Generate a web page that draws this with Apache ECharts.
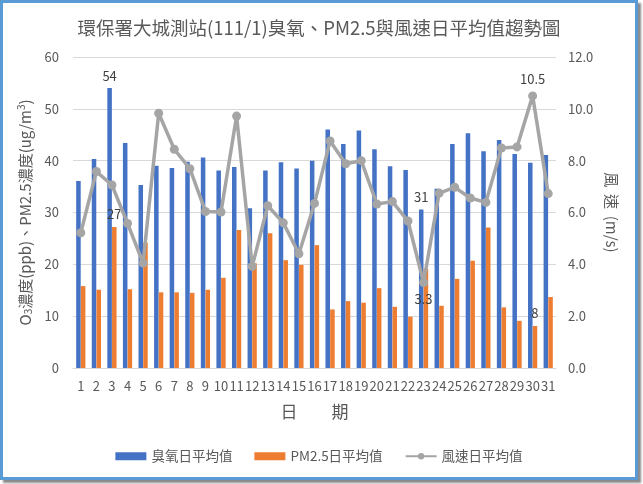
<!DOCTYPE html>
<html><head><meta charset="utf-8">
<script src="https://cdn.jsdelivr.net/npm/echarts@6/dist/echarts.min.js"></script>
<style>
html,body{margin:0;padding:0;background:#fff;}
#c{position:absolute;left:0;top:0;width:632px;height:474px;border:3px solid #5b9bd5;box-shadow:3px 3px 2px #8a8a8a;background:#fff;}
</style></head><body>
<div id="c"></div>
<script>
const days = ['1','2','3','4','5','6','7','8','9','10','11','12','13','14','15','16','17','18','19','20','21','22','23','24','25','26','27','28','29','30','31'];
const o3 = [36.1,40.3,54.0,43.4,35.3,39.0,38.6,39.8,40.6,38.1,38.8,30.8,38.1,39.7,38.5,40.0,46.0,43.2,45.8,42.2,38.9,38.2,30.6,34.6,43.2,45.3,41.8,44.0,41.3,39.6,41.1];
const pm25 = [15.8,15.1,27.2,15.2,24.2,14.6,14.6,14.5,15.1,17.4,26.6,20.2,26.0,20.8,19.9,23.7,11.3,12.9,12.6,15.4,11.8,9.9,19.2,12.0,17.2,20.7,27.1,11.7,9.1,8.1,13.7];
const wind = [5.22,7.58,7.06,5.58,4.05,9.83,8.44,7.69,6.04,6.02,9.72,3.92,6.26,5.6,4.41,6.35,8.76,7.88,8.0,6.33,6.42,5.67,3.3,6.75,6.97,6.56,6.39,8.49,8.53,10.5,6.73];
const leftTicks = [0,10,20,30,40,50,60];
const rightTicks = [0,2,4,6,8,10,12];

const labelColor = '#404040';
const font = '"Noto Sans CJK TC", "Noto Sans", sans-serif';
function mark(arr, fmt, minPos, maxPos) {
  const mx = arr.indexOf(Math.max(...arr));
  const mn = arr.indexOf(Math.min(...arr));
  return arr.map((v, i) => {
    if (i === mx || i === mn) {
      return {value: v, label: {show: true, position: i === mx ? maxPos : minPos, formatter: fmt(v), color: labelColor, fontSize: 13, fontFamily: font, distance: 6}};
    }
    return v;
  });
}
const chart = echarts.init(document.getElementById('c'));
chart.setOption({
  animation: false,
  textStyle: {fontFamily: font},
  title: {text: '環保署大城測站(111/1)臭氧、PM2.5與風速日平均值趨勢圖', left: 'center', top: 11,
    textStyle: {fontSize: 18.5, fontWeight: 'normal', color: '#595959', fontFamily: font}},
  legend: {bottom: 9, left: 'center', itemGap: 22, itemWidth: 31, itemHeight: 8,
    textStyle: {fontSize: 13.5, color: '#595959', fontFamily: font},
    data: [{name: '臭氧日平均值', icon: 'rect'}, {name: 'PM2.5日平均值', icon: 'rect'}, {name: '風速日平均值'}]},
  grid: {left: 70, right: 79, top: 54, bottom: 109},
  xAxis: {type: 'category', data: days, name: '日　　期', nameLocation: 'middle', nameGap: 35,
    nameTextStyle: {fontSize: 17, color: '#595959', fontFamily: font},
    axisLine: {lineStyle: {color: '#d9d9d9'}}, axisTick: {show: false},
    axisLabel: {interval: 0, color: '#595959', fontSize: 13, margin: 12}},
  yAxis: [
    {type: 'value', min: leftTicks[0], max: leftTicks[leftTicks.length-1], interval: 10,
     name: '{n|O}{s|3}{n|濃度(ppb)、PM2.5濃度(ug/m}{p|3}{n|)}', nameLocation: 'middle', nameGap: 34,
     nameTextStyle: {rich: {
       n: {fontSize: 15, color: '#595959', fontFamily: font, height: 20, verticalAlign: 'middle'},
       s: {fontSize: 10, color: '#595959', fontFamily: font, verticalAlign: 'bottom', height: 20, padding:[7,0,0,0]},
       p: {fontSize: 10, color: '#595959', fontFamily: font, verticalAlign: 'top', height: 20, padding:[0,0,7,0]}}},
     axisLine: {show: false}, axisTick: {show: false},
     splitLine: {lineStyle: {color: '#d9d9d9'}},
     axisLabel: {color: '#595959', fontSize: 13, margin: 14}},
    {type: 'value', min: rightTicks[0], max: rightTicks[rightTicks.length-1], interval: 2,
     name: '風  速  (m/s)', nameLocation: 'middle', nameGap: 46, nameRotate: -90,
     nameTextStyle: {fontSize: 15, color: '#595959', fontFamily: font},
     axisLine: {show: false}, axisTick: {show: false}, splitLine: {show: false},
     axisLabel: {color: '#595959', fontSize: 13, margin: 12, formatter: v => v.toFixed(1)}}
  ],
  series: [
    {name: '臭氧日平均值', type: 'bar', data: mark(o3, v => String(Math.round(v)), 'top', 'top'),
     itemStyle: {color: '#4472c4'}, barWidth: '29%', barGap: '4%'},
    {name: 'PM2.5日平均值', type: 'bar', data: mark(pm25, v => String(Math.round(v)), 'top', 'top'),
     itemStyle: {color: '#ed7d31'}, barWidth: '29%'},
    {name: '風速日平均值', type: 'line', yAxisIndex: 1, data: mark(wind, v => v.toFixed(1), 'bottom', 'top'),
     symbol: 'circle', symbolSize: 9, lineStyle: {color: '#a5a5a5', width: 3.5}, itemStyle: {color: '#a5a5a5'}}
  ]
});
</script></body></html>
